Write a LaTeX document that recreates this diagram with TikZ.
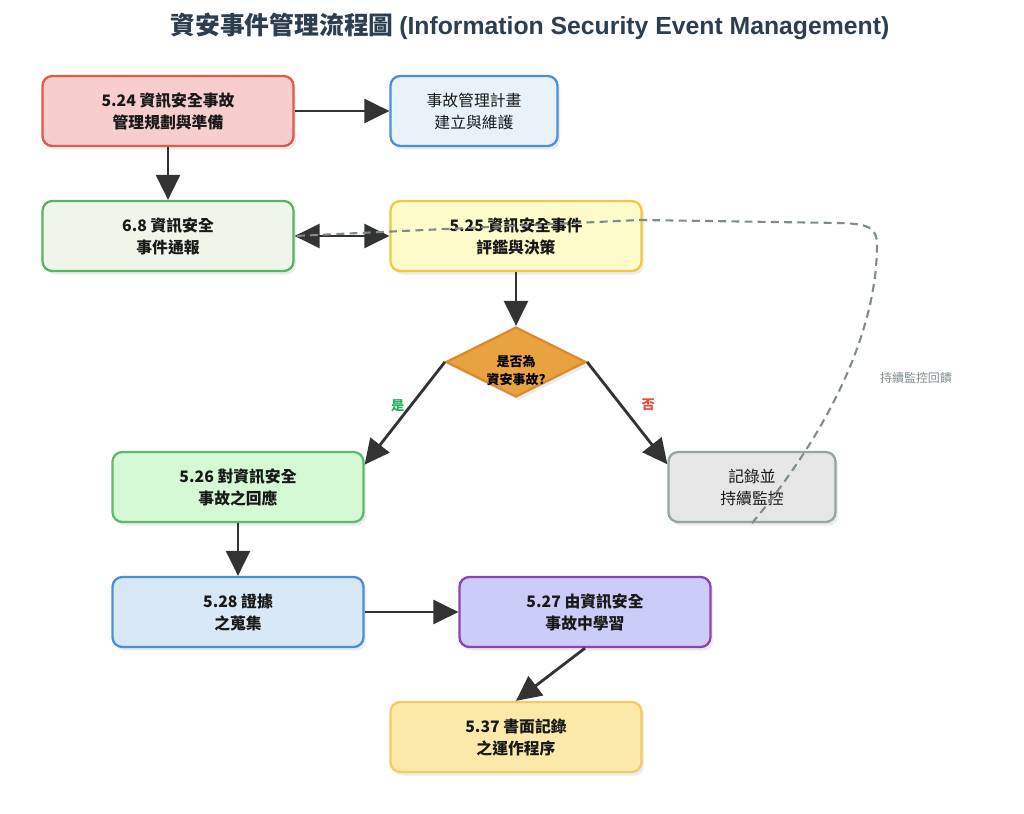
\documentclass[tikz,border=0pt]{standalone}
\usepackage{fontspec}
\setmainfont{Noto Sans CJK TC}
\newfontfamily\latinfont{Liberation Sans}
\usetikzlibrary{shapes.geometric, arrows.meta, shadows}
\usetikzlibrary{positioning}

\definecolor{titlecol}{HTML}{2C3E50}
\definecolor{linecol}{HTML}{333333}
\definecolor{fbcol}{HTML}{7F8C8D}
\definecolor{planfill}{HTML}{F7CDCD}
\definecolor{plandraw}{HTML}{E05A47}
\definecolor{keepfill}{HTML}{E8F2F8}
\definecolor{keepdraw}{HTML}{4A90D9}
\definecolor{reportfill}{HTML}{EFF6E9}
\definecolor{reportdraw}{HTML}{5CB062}
\definecolor{assessfill}{HTML}{FFFCCC}
\definecolor{assessdraw}{HTML}{F0C845}
\definecolor{decfill}{HTML}{E8A23F}
\definecolor{decdraw}{HTML}{D98B2F}
\definecolor{respfill}{HTML}{D5F8D5}
\definecolor{respdraw}{HTML}{62B872}
\definecolor{logfill}{HTML}{E6E6E6}
\definecolor{logdraw}{HTML}{95A5A6}
\definecolor{evidfill}{HTML}{D9E8F6}
\definecolor{evidraw}{HTML}{4A90D9}
\definecolor{learnfill}{HTML}{CCCCF8}
\definecolor{learndraw}{HTML}{8E44AD}
\definecolor{docfill}{HTML}{FAE9A9}
\definecolor{docdraw}{HTML}{F2CB66}
\definecolor{yescol}{HTML}{27AE60}
\definecolor{nocol}{HTML}{E74C3C}

\tikzset{
    stepbox/.style={rounded corners=5.5pt, draw, line width=1.3pt,
        minimum width=5.02cm, minimum height=1.4cm, align=center,
        text=black!90, font=\bfseries\fontsize{9}{12.5}\selectfont,
        drop shadow={opacity=0.15, shadow xshift=1.5pt, shadow yshift=-2pt}},
    sidebox/.style={stepbox, minimum width=3.34cm,
        font=\fontsize{9}{12.5}\selectfont},
    decision/.style={diamond, draw=decdraw, fill=decfill, line width=1.3pt,
        minimum width=2.8cm, minimum height=1.4cm, inner sep=0pt, aspect=2,
        drop shadow={opacity=0.15, shadow xshift=1.5pt, shadow yshift=-2pt}},
    declabel/.style={align=center, font=\bfseries\fontsize{7.4}{10}\selectfont},
    bigtip/.tip={Triangle[length=0.5cm, width=0.48cm]},
    flow/.style={draw=linecol, line width=1.6pt, -bigtip},
    feedback/.style={draw=fbcol, line width=1.2pt, dash pattern=on 4.5pt off 3pt}
}

\begin{document}
\begin{tikzpicture}[x=0.02cm, y=-0.02cm]

\useasboundingbox[fill=white] (0,0) rectangle (1024,814);

\node[text=titlecol, font=\bfseries\fontsize{14.1}{16}\selectfont] (title) at (530,26)
    {資安事件管理流程圖 {\latinfont (Information Security Event Management)}};

% row 1
\node[stepbox, fill=planfill, draw=plandraw] (plan) at (168,111) {5.24 資訊安全事故\\管理規劃與準備};
\node[sidebox, fill=keepfill, draw=keepdraw] (keep) at (474,111) {事故管理計畫\\建立與維護};

% row 2
\node[stepbox, fill=reportfill, draw=reportdraw] (report) at (168,236) {6.8 資訊安全\\事件通報};
\node[stepbox, fill=assessfill, draw=assessdraw] (assess) at (516,236) {5.25 資訊安全事件\\評鑑與決策};

% decision
\node[decision, label={[declabel, yshift=-5pt]center:{是否為\\資安事故?}}] (dec) at (516,362) {};

% row 3
\node[stepbox, fill=respfill, draw=respdraw] (resp) at (238,487) {5.26 對資訊安全\\事故之回應};
\node[sidebox, fill=logfill, draw=logdraw] (log) at (752,487) {記錄並\\持續監控};

% row 4
\node[stepbox, fill=evidfill, draw=evidraw] (evid) at (238,612) {5.28 證據\\之蒐集};
\node[stepbox, fill=learnfill, draw=learndraw] (learn) at (585,612) {5.27 由資訊安全\\事故中學習};

% row 5
\node[stepbox, fill=docfill, draw=docdraw] (doc) at (516,737) {5.37 書面記錄\\之運作程序};

\draw[flow] (plan.east) -- (keep.west);
\draw[flow] (plan.south) -- (report.north);
\draw[flow, bigtip-bigtip] (report.east) -- (assess.west);
\draw[flow] (assess.south) -- (dec.north);
\draw[flow] (dec.west) -- node[midway, shift={(-7,-8)}, text=yescol, font=\bfseries\fontsize{7.5}{8}\selectfont] {是} (resp.10);
\draw[flow] (dec.east) -- node[midway, shift={(21,-8)}, text=nocol, font=\bfseries\fontsize{7.5}{8}\selectfont] {否} (log.165);
\draw[flow] (resp.south) -- (evid.north);
\draw[flow] (evid.east) -- (learn.west);
\draw[flow] (learn.south) -- (doc.north);

% monitoring feedback
\draw[feedback] (log.south) .. controls (830,430) and (877,330) .. (877,245)
    .. controls (877,226) and (866,224) .. (840,223) -- (640,220) -- (report.east);
\node[text=fbcol, font=\fontsize{6.8}{8}\selectfont] (fblabel) at (916,378) {持續監控回饋};

\end{tikzpicture}
\end{document}
